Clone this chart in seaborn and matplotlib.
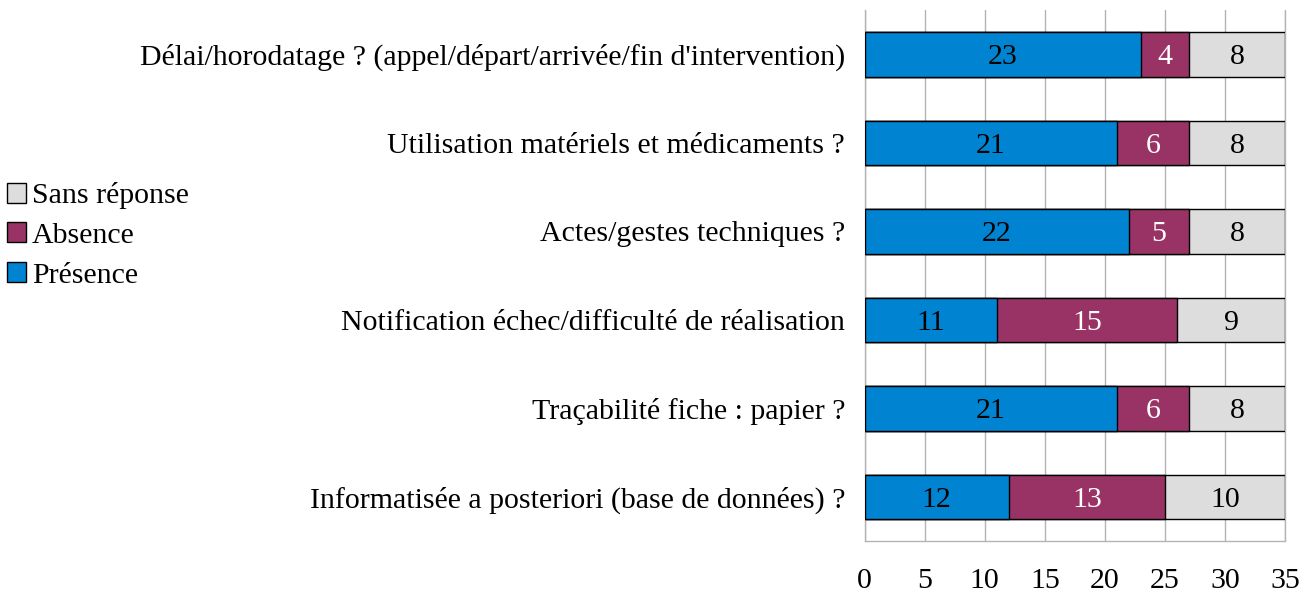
import numpy as np
import pandas as pd
import seaborn as sns
import matplotlib.pyplot as plt
from matplotlib.patches import Patch

categories = ["Délai/horodatage ? (appel/départ/arrivée/fin d'intervention)",
              "Utilisation matériels et médicaments ?",
              "Actes/gestes techniques ?",
              "Notification échec/difficulté de réalisation",
              "Traçabilité fiche : papier ?",
              "Informatisée a posteriori (base de données) ?"]
presence = [23, 21, 22, 11, 21, 12]
absence = [4, 6, 5, 15, 6, 13]
sans_reponse = [8, 8, 8, 9, 8, 10]
x_ticks = [0, 5, 10, 15, 20, 25, 30, 35]

c_pres = "#0084d1"
c_abs = "#993366"
c_sans = "#dddddd"

sns.set_style("white")
plt.rcParams["font.family"] = ["Liberation Serif", "DejaVu Serif"]
plt.rcParams["font.size"] = 21.5
plt.rcParams["text.color"] = "black"
plt.rcParams["xtick.labelcolor"] = "black"
plt.rcParams["ytick.labelcolor"] = "black"

df = pd.DataFrame({"cat": categories, "pres": presence, "abs": absence, "sans": sans_reponse})
df["c2"] = df["pres"] + df["abs"]
df["c3"] = df["c2"] + df["sans"]

fig = plt.figure(figsize=(13.14, 5.96), dpi=100)
ax = fig.add_axes([0.658, 0.092, 0.32, 0.891])

for col, color in [("c3", c_sans), ("c2", c_abs), ("pres", c_pres)]:
    sns.barplot(data=df, x=col, y="cat", order=categories, color=color, width=0.5,
                edgecolor="black", linewidth=1, saturation=1, ax=ax, zorder=3)

# values in the middle of each segment
for i, row in df.iterrows():
    ax.text(row["pres"] / 2, i, str(row["pres"]), ha="center", va="center_baseline", color="black", zorder=5)
    ax.text(row["pres"] + row["abs"] / 2, i, str(row["abs"]), ha="center", va="center_baseline", color="white", zorder=5)
    ax.text(row["c2"] + row["sans"] / 2, i, str(row["sans"]), ha="center", va="center_baseline", color="black", zorder=5)

ax.set_xlim(0, 35)
ax.set_ylim(len(categories) - 0.5, -0.5)
ax.set_xticks(x_ticks)
ax.set_xlabel("")
ax.set_ylabel("")

ax.set_yticks(np.arange(-0.5, len(categories)), labels=[""] * (len(categories) + 1))
ax.set_yticks(range(len(categories)), labels=categories, minor=True)
ax.tick_params(axis="y", which="major", length=9, color="#b3b3b3", width=1, direction="out")
ax.tick_params(axis="y", which="minor", length=0, pad=14)
ax.tick_params(axis="x", length=9, color="#b3b3b3", width=1, direction="out", pad=10)

ax.grid(True, axis="x", color="#b3b3b3", linewidth=1, zorder=0)
ax.axvline(x_ticks[-1], color="#b3b3b3", linewidth=1, zorder=0, clip_on=False)
ax.set_axisbelow(True)
for s in ["top", "right"]:
    ax.spines[s].set_visible(False)
for s in ["left", "bottom"]:
    ax.spines[s].set_color("#b3b3b3")
    ax.spines[s].set_linewidth(1)

handles = [Patch(facecolor=c_sans, edgecolor="black", label="Sans réponse"),
           Patch(facecolor=c_abs, edgecolor="black", label="Absence"),
           Patch(facecolor=c_pres, edgecolor="black", label="Présence")]
fig.legend(handles=handles, loc="center left", bbox_to_anchor=(0.005, 0.605), frameon=False,
           handlelength=0.65, handleheight=0.65, handletextpad=0.2, labelspacing=0.45,
           borderaxespad=0, borderpad=0)

fig.savefig("out.png", dpi=100)
